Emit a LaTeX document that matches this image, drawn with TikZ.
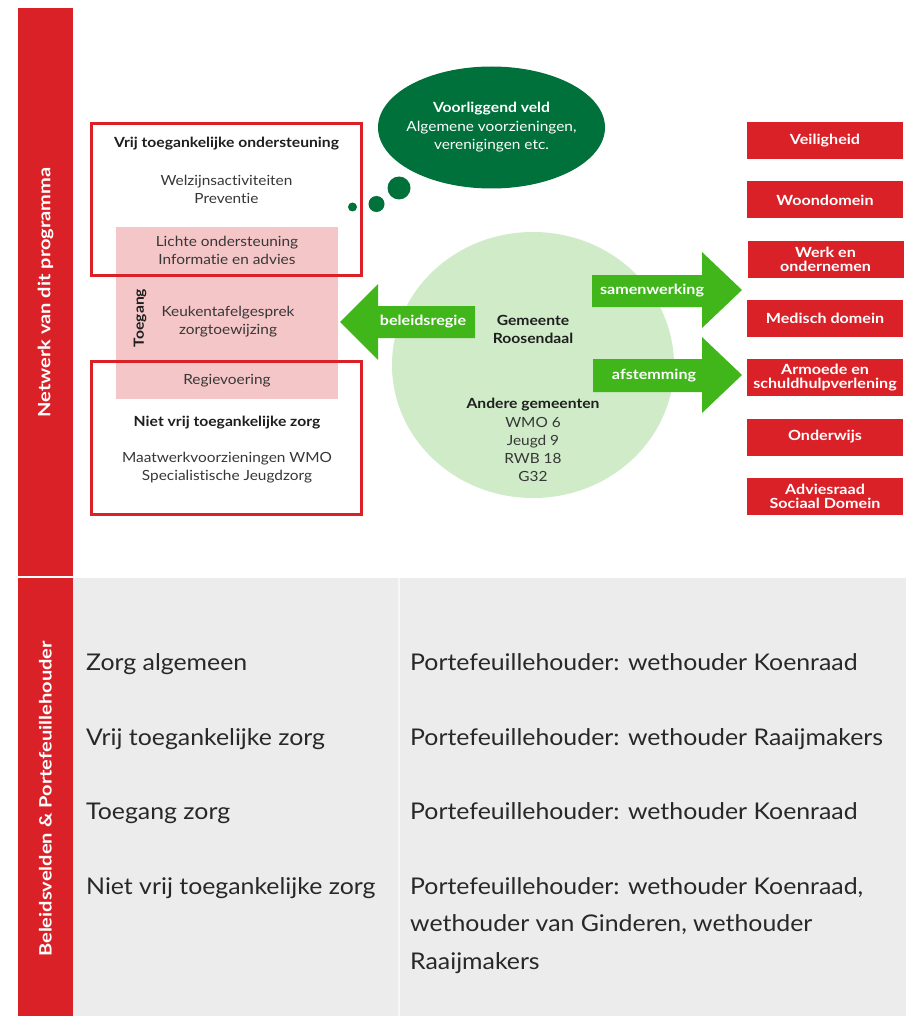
\documentclass[tikz,border=0pt]{standalone}
\usepackage{fontspec}
\setmainfont[Ligatures=CommonOff]{Lato}
\newfontfamily\dfont[Ligatures=CommonOff, FakeStretch=1.1, BoldFeatures={FakeStretch=1.12}]{Lato}
\newfontfamily\wfont[Ligatures=CommonOff, FakeStretch=1.15]{Lato}
\newfontfamily\barfont[Ligatures=CommonOff, FakeStretch=1.18]{Lato}
\newfontfamily\tfont[Ligatures=CommonOff, FakeStretch=1.08]{Lato}
\usetikzlibrary{shapes.geometric}
\definecolor{rred}{RGB}{218,33,40}
\definecolor{pinkbg}{RGB}{245,198,200}
\definecolor{dgreen}{RGB}{0,113,58}
\definecolor{lgreen}{RGB}{207,235,200}
\definecolor{agreen}{RGB}{64,182,27}
\definecolor{greybg}{RGB}{235,236,235}
\definecolor{txtgrey}{RGB}{55,55,55}
\definecolor{txtdark}{RGB}{30,30,30}
\definecolor{tabgrey}{RGB}{40,40,40}
\begin{document}
\begin{tikzpicture}[x=1pt,y=-1pt,
  txt/.style={font=\dfont\fontsize{14}{18}\selectfont, text=txtgrey, inner sep=0pt, align=center},
  hdr/.style={font=\dfont\fontsize{14}{18}\selectfont\bfseries, text=txtdark, inner sep=0pt, align=center},
  wtxt/.style={font=\dfont\fontsize{14}{18}\selectfont, text=white, inner sep=0pt, align=center},
  wbold/.style={font=\wfont\fontsize{14}{15}\selectfont\bfseries, text=white, inner sep=0pt, align=center},
  redbox/.style={draw=rred, line width=3pt},
  dombox/.style={fill=rred, minimum width=156pt, minimum height=37pt, inner sep=0pt, font=\wfont\fontsize{14}{14}\selectfont\bfseries, text=white, align=center},
  bubble/.style={circle, fill=dgreen, inner sep=0pt},
  bartxt/.style={font=\barfont\fontsize{17}{18}\selectfont\bfseries, text=white, inner sep=0pt, rotate=90},
  tabtxt/.style={font=\tfont\fontsize{23}{26}\selectfont, text=tabgrey, inner sep=0pt, anchor=base west},
  arrowfill/.style={fill=agreen}
]
\useasboundingbox (0,0) rectangle (906,1016);
\fill[white] (0,0) rectangle (906,1016);

% side bars
\fill[rred] (18,8) rectangle (73,576.3);
\fill[rred] (18,577.7) rectangle (73,1016);
\node[bartxt] (bar1) at (45.5,292.5) {Netwerk van dit programma};
\node[bartxt] (bar2) at (45.5,799) {Beleidsvelden \& Portefeuillehouder};

% bottom table
\fill[greybg] (73,577.7) rectangle (906,1016);
\draw[white!60!greybg, line width=1.2pt] (399,577.7) -- (399,1016);
\node[tabtxt] (l1) at (86,670) {Zorg algemeen};
\node[tabtxt] (l2) at (86,745) {Vrij toegankelijke zorg};
\node[tabtxt] (l3) at (86,819) {Toegang zorg};
\node[tabtxt] (l4) at (86,894) {Niet vrij toegankelijke zorg};
\node[tabtxt] (r1) at (410,670) {Portefeuillehouder: wethouder Koenraad};
\node[tabtxt] (r2) at (410,745) {Portefeuillehouder: wethouder Raaijmakers};
\node[tabtxt] (r3) at (410,819) {Portefeuillehouder: wethouder Koenraad};
\node[tabtxt] (r4a) at (410,894) {Portefeuillehouder: wethouder Koenraad,};
\node[tabtxt] (r4b) at (410,931) {wethouder van Ginderen, wethouder};
\node[tabtxt] (r4c) at (410,969) {Raaijmakers};

% left boxes
\fill[pinkbg] (116,227) rectangle (338,399);
\draw[redbox] (91.5,123.5) rectangle (361.5,275.5);
\draw[redbox] (91.5,361.5) rectangle (361.5,514.5);
\node[hdr] (vt) at (226.5,143.5) {Vrij toegankelijke ondersteuning};
\node[txt] (welz) at (226.5,189) {Welzijnsactiviteiten\\Preventie};
\node[txt] (licht) at (227,250) {Lichte ondersteuning\\Informatie en advies};
\node[hdr, rotate=90] (toeg) at (140,318) {Toegang};
\node[txt] (keuk) at (228,321.5) {Keukentafelgesprek\\zorgtoewijzing};
\node[txt] (regie) at (227,381) {Regievoering};
\node[hdr] (nvt) at (227,423) {Niet vrij toegankelijke zorg};
\node[txt] (maat) at (227,468) {Maatwerkvoorzieningen WMO\\Specialistische Jeugdzorg};

% voorliggend veld
\node[ellipse, fill=dgreen, minimum width=227pt, minimum height=122pt, inner sep=0pt] (veld) at (491.5,127.5) {};
\node[font=\dfont\fontsize{14}{18}\selectfont\bfseries, text=white, inner sep=0pt] (veldt) at (491.5,109) {Voorliggend veld};
\node[wtxt] (veldb) at (491.5,137) {Algemene voorzieningen,\\verenigingen etc.};
\node[bubble, minimum size=23pt] (b1) at (399,188) {};
\node[bubble, minimum size=16pt] (b2) at (376.5,204) {};
\node[bubble, minimum size=9pt] (b3) at (352.5,207) {};

% central circle
\node[ellipse, fill=lgreen, minimum width=282pt, minimum height=266pt, inner sep=0pt] (gem) at (533,365) {};
\node[hdr] (gemt) at (533,329) {Gemeente\\Roosendaal};
\node[hdr] (andt) at (533,405) {Andere gemeenten};
\node[txt] (andl) at (533,449) {WMO 6\\Jeugd 9\\RWB 18\\G32};

% arrows
\fill[arrowfill] (475,306) -- (378,306) -- (378,284) -- (340,322) -- (378,360) -- (378,338) -- (475,338) -- cycle;
\node[wbold] (beleid) at (423,322) {beleidsregie};
\fill[arrowfill] (592,275) -- (702,275) -- (702,252) -- (742,290) -- (702,328) -- (702,307) -- (592,307) -- cycle;
\node[wbold] (samen) at (652,291) {samenwerking};
\fill[arrowfill] (593,359) -- (702,359) -- (702,337) -- (742,375) -- (702,413) -- (702,392) -- (593,392) -- cycle;
\node[wbold] (afst) at (654,375.5) {afstemming};

% domains
\node[dombox] (d1) at (825,141) {Veiligheid};
\node[dombox] (d2) at (825,200) {Woondomein};
\node[dombox] (d3) at (825.5,259.5) {Werk en\\ondernemen};
\node[dombox] (d4) at (825,318.5) {Medisch domein};
\node[dombox] (d5) at (825,377.5) {Armoede en\\schuldhulpverlening};
\node[dombox] (d6) at (825,437) {Onderwijs};
\node[dombox] (d7) at (825,496) {Adviesraad\\Sociaal Domein};
\end{tikzpicture}
\end{document}
